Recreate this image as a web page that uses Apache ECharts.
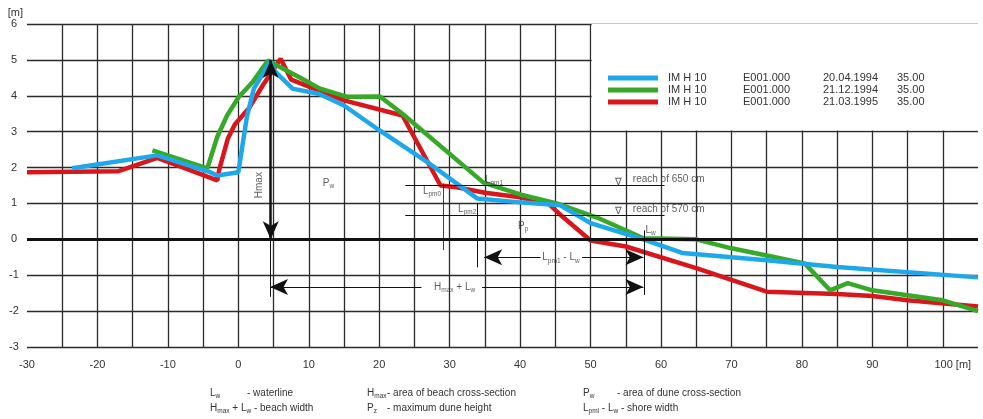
<!DOCTYPE html>
<html><head><meta charset="utf-8">
<script src="https://cdn.jsdelivr.net/npm/echarts@6/dist/echarts.min.js"></script>
<style>html,body{margin:0;padding:0;background:#fff}#c{width:983px;height:419px}</style>
</head><body><div id="c"></div>
<script>
// ---------- data ----------
const seriesNames = ['20.04.1994', '21.12.1994', '21.03.1995'];
const profileNames = ['IM H 10', 'IM H 10', 'IM H 10'];
const kilometres = ['E001.000', 'E001.000', 'E001.000'];
const dates = ['20.04.1994', '21.12.1994', '21.03.1995'];
const azimuths = ['35.00', '35.00', '35.00'];

const blueProfile = [[-23.6,1.98],[-11.5,2.34],[-4,1.87],[-3,1.78],[0,1.87],[1.2,3.4],[2.2,4.2],[3.6,4.65],[4.5,4.95],[5.2,4.68],[7.7,4.2],[11.5,4.05],[15,3.73],[20,3.04],[27.2,2.1],[33.9,1.14],[40,1.03],[45.7,0.95],[50,0.45],[57.5,0.0],[63,-0.38],[75,-0.58],[85,-0.77],[105,-1.06]];
const greenProfile = [[-12.2,2.48],[-4.4,1.98],[-3,2.85],[-1.6,3.45],[0,3.95],[2.1,4.4],[4.2,4.98],[6.9,4.7],[8.8,4.5],[11.6,4.2],[15.5,3.97],[20.1,3.98],[23.3,3.5],[34.8,1.58],[40,1.25],[45.2,1.0],[51,0.6],[57.5,0.03],[65,0.0],[70,-0.25],[75,-0.45],[80.4,-0.67],[84,-1.42],[86.5,-1.22],[90,-1.42],[100,-1.7],[105,-2.0]];
const redProfile = [[-30,1.87],[-17,1.9],[-11.5,2.27],[-3,1.64],[-2.7,1.95],[-1.5,2.8],[-0.5,3.2],[1.5,3.65],[3.5,4.3],[6,5.03],[7.5,4.45],[15,3.87],[23.3,3.45],[28.7,1.5],[31,1.45],[35,1.3],[40,1.17],[44,1.0],[45.5,0.72],[50,-0.03],[55,-0.2],[65,-0.8],[75,-1.46],[85,-1.52],[90,-1.58],[95,-1.7],[105,-1.87]];

const xLabelValues = [-30,-20,-10,0,10,20,30,40,50,60,70,80,90,100];
const yTickValues = [-3,-2,-1,0,1,2,3,4,5,6];

// annotation segments: [x1, y1, x2, y2, startSymbol, endSymbol, width]
const annotationSegments = [
  [-30, 0, 105, 0, 'none', 'none', 3],
  [4.6, 5, 4.6, 0, 'arrow', 'arrow', 2.5],
  [4.6, 0, 4.6, -1.6, 'none', 'none', 1],
  [4.5, -1.33, 26, -1.33, 'arrow', 'none', 1],
  [34.6, -1.33, 57.5, -1.33, 'none', 'arrow', 1],
  [34.9, -0.5, 42.9, -0.5, 'arrow', 'none', 1],
  [48.8, -0.5, 57.5, -0.5, 'none', 'arrow', 1],
  [57.6, 0.25, 57.6, -1.55, 'none', 'none', 1],
  [33.9, 1.0, 33.9, -0.78, 'none', 'none', 1],
  [29.1, 1.55, 29.1, -0.3, 'none', 'none', 0.8],
  [23.7, 1.5, 60.5, 1.5, 'none', 'none', 1],
  [23.7, 0.67, 60.5, 0.67, 'none', 'none', 1]
];
// annotation texts: [x, y, text, align, rotate]
const annotationTexts = [
  [2.9, 1.51, 'Hmax', 'center', 90],
  [12.0, 1.57, '{m|P}{s|w}', 'left', 0],
  [39.7, 0.37, '{m|P}{s|p}', 'left', 0],
  [56.0, 1.68, 'reach of 650 cm', 'left', 0],
  [56.0, 0.84, 'reach of 570 cm', 'left', 0],
  [53.9, 1.6, '∇', 'center', 0],
  [53.9, 0.77, '∇', 'center', 0],
  [35.0, 1.65, '{m|L}{s|pm1}', 'left', 0],
  [26.2, 1.35, '{m|L}{s|pm0}', 'left', 0],
  [31.2, 0.84, '{m|L}{s|pm2}', 'left', 0],
  [57.8, 0.26, '{m|L}{s|w}', 'left', 0],
  [30.7, -1.33, '{m|H}{s|max}{m| + L}{s|w}', 'center', 0],
  [45.8, -0.5, '{m|L}{s|pm1}{m| - L}{s|w}', 'center', 0]
];
// white legend panel (data coords)
const legendPanel = [[50.15, 3.03], [105, 6]];

// ---------- chart ----------
const FONT = "'Liberation Sans', Arial, sans-serif";
const TXT = '#333';
const colors = ['#1ea8ec', '#36aa28', '#d8161c'];
const subRich = {
  m: {fontSize: 10, fontFamily: FONT, color: TXT, lineHeight: 14},
  s: {fontSize: 6.5, fontFamily: FONT, color: TXT, lineHeight: 8, verticalAlign: 'bottom'}
};

const chart = echarts.init(document.getElementById('c'));

function lineSeries(name, data, color, z) {
  return {
    name, type: 'line', data, symbol: 'none', smooth: false, z,
    lineStyle: {color, width: 4.5}, itemStyle: {color},
    silent: true
  };
}

function txt(x, y, text, extra) {
  return Object.assign({type: 'text', x, y, silent: true, style: Object.assign({
    text, fill: TXT, fontSize: 10, fontFamily: FONT, verticalAlign: 'middle', rich: subRich
  }, extra || {})});
}

const option = {
  animation: false,
  backgroundColor: '#fff',
  grid: {left: 27, top: 24, right: 5, bottom: 72, containLabel: false},
  xAxis: {
    type: 'value', min: -30, max: 105, interval: 5,
    axisLine: {show: false, onZero: false}, axisTick: {show: false},
    splitLine: {show: true, showMinLine: false, showMaxLine: false, lineStyle: {color: '#2b2b2b', width: 1.3}},
    axisLabel: {
      margin: 12, color: TXT, fontSize: 11, fontFamily: FONT,
      formatter: v => xLabelValues.indexOf(v) < 0 ? '' : (v === 100 ? '{pad|}100 [m]' : String(v)),
      rich: {pad: {width: 20}}
    }
  },
  yAxis: {
    type: 'value', min: -3, max: 6, interval: 1,
    name: '[m]', nameLocation: 'end', nameGap: 5,
    nameTextStyle: {align: 'right', padding: [0, 4, 0, 0], color: TXT, fontSize: 11, fontFamily: FONT},
    axisLine: {show: false, onZero: false}, axisTick: {show: false},
    splitLine: {show: true, lineStyle: {color: '#2b2b2b', width: 1.3}},
    axisLabel: {
      margin: 13, align: 'center', color: TXT, fontSize: 11, fontFamily: FONT,
      formatter: v => yTickValues.indexOf(v) < 0 ? '' : String(v)
    }
  },
  legend: {
    data: seriesNames, orient: 'vertical', left: 608, top: 72, padding: 0,
    itemGap: 0, itemWidth: 50, itemHeight: 5, icon: 'rect', selectedMode: false,
    formatter: name => {
      const i = seriesNames.indexOf(name);
      return '{sp|}{n|' + profileNames[i] + '}{k|' + kilometres[i] + '}{d|' + dates[i] + '}{a|' + azimuths[i] + '}';
    },
    textStyle: {
      color: TXT, fontSize: 11, fontFamily: FONT, lineHeight: 12,
      rich: {sp: {width: 5}, n: {width: 75}, k: {width: 80}, d: {width: 74}, a: {}}
    }
  },
  series: [
    lineSeries(seriesNames[2], redProfile, colors[2], 2),
    lineSeries(seriesNames[1], greenProfile, colors[1], 3),
    lineSeries(seriesNames[0], blueProfile, colors[0], 4),
    {
      name: 'annotations', type: 'scatter', symbolSize: 0, silent: true, z: 6,
      data: annotationTexts.map(a => ({
        value: [a[0], a[1]],
        label: {formatter: () => a[2], align: a[3], rotate: a[4]}
      })),
      label: {show: true, position: 'inside', verticalAlign: 'middle', color: TXT, fontSize: 10, fontFamily: FONT, rich: subRich},
      markLine: {
        silent: true, animation: false, symbol: ['none', 'none'], symbolSize: [12, 18],
        label: {show: false}, emphasis: {disabled: true},
        data: annotationSegments.map(s => [
          {coord: [s[0], s[1]], symbol: s[4], symbolSize: [12, 18], lineStyle: {color: '#111', width: s[6], type: 'solid'}},
          {coord: [s[2], s[3]], symbol: s[5], symbolSize: [12, 18]}
        ])
      },
      markArea: {
        silent: true, itemStyle: {color: '#fff'},
        data: [[{coord: legendPanel[0]}, {coord: legendPanel[1]}]]
      }
    }
  ],
  graphic: [
    txt(662, 33, '.', {fontSize: 11}),
    txt(668, 33, 'PROFILES', {fontSize: 11}),
    txt(668, 58, 'Name', {fontSize: 10.5}),
    txt(743, 58, 'kilometre', {fontSize: 10.5}),
    txt(833, 58, 'date', {fontSize: 10.5}),
    txt(893, 58, 'azimuth (grades)', {fontSize: 10.5}),
    txt(688, 126, 'SCALE:', {fontSize: 10.5}),
    txt(725, 126, 'vertical  1 : 100', {fontSize: 10.5}),
    txt(832, 126, 'horizontal  1 : 500', {fontSize: 10.5}),
    txt(210, 393, '{m|L}{s|w}'),
    txt(247, 393, '- waterline'),
    txt(367, 393, '{m|H}{s|max}'),
    txt(387, 393, '- area of beach cross-section'),
    txt(583, 393, '{m|P}{s|w}'),
    txt(617, 393, '- area of dune cross-section'),
    txt(210, 408, '{m|H}{s|max}{m| + L}{s|w}{m| - beach width}'),
    txt(367, 408, '{m|P}{s|z}'),
    txt(387, 408, '- maximum dune height'),
    txt(583, 408, '{m|L}{s|pml}{m| - L}{s|w}{m| - shore width}')
  ]
};
chart.setOption(option);
</script>
</body></html>
